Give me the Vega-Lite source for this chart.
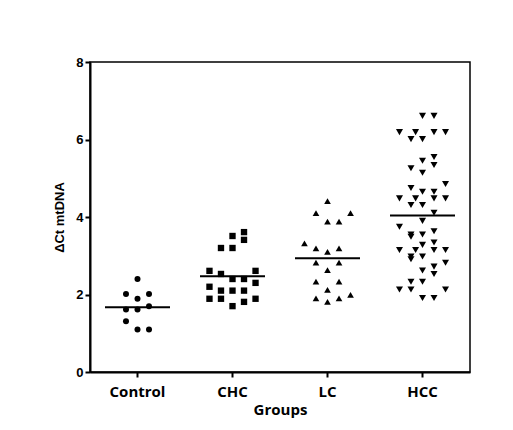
{
  "$schema": "https://vega.github.io/schema/vega-lite/v6.json",
  "autosize": {"type": "none"},
  "padding": {"left": 90, "top": 62, "right": 43, "bottom": 58},
  "width": 380,
  "height": 310,
  "background": "white",
  "config": {
    "view": {"stroke": "black", "strokeWidth": 1.5},
    "axis": {"domainColor": "black", "domainWidth": 2, "tickColor": "black", "tickWidth": 2, "tickSize": 5, "labelColor": "black", "titleColor": "black", "grid": false}
  },
  "data": {"values": [
    {"group": "Control", "value": 2.40, "col": 0},
    {"group": "Control", "value": 2.01, "col": -1},
    {"group": "Control", "value": 1.89, "col": 0},
    {"group": "Control", "value": 2.01, "col": 1},
    {"group": "Control", "value": 1.61, "col": -1},
    {"group": "Control", "value": 1.61, "col": 0},
    {"group": "Control", "value": 1.70, "col": 1},
    {"group": "Control", "value": 1.31, "col": -1},
    {"group": "Control", "value": 1.10, "col": 0},
    {"group": "Control", "value": 1.10, "col": 1},
    {"group": "CHC", "value": 3.61, "col": 1},
    {"group": "CHC", "value": 3.51, "col": 0},
    {"group": "CHC", "value": 3.41, "col": 1},
    {"group": "CHC", "value": 3.20, "col": -1},
    {"group": "CHC", "value": 3.20, "col": 0},
    {"group": "CHC", "value": 2.61, "col": -2},
    {"group": "CHC", "value": 2.53, "col": -1},
    {"group": "CHC", "value": 2.61, "col": 2},
    {"group": "CHC", "value": 2.40, "col": 0},
    {"group": "CHC", "value": 2.40, "col": 1},
    {"group": "CHC", "value": 2.30, "col": 2},
    {"group": "CHC", "value": 2.20, "col": -2},
    {"group": "CHC", "value": 2.10, "col": -1},
    {"group": "CHC", "value": 2.10, "col": 0},
    {"group": "CHC", "value": 2.10, "col": 1},
    {"group": "CHC", "value": 1.89, "col": -2},
    {"group": "CHC", "value": 1.89, "col": -1},
    {"group": "CHC", "value": 1.89, "col": 2},
    {"group": "CHC", "value": 1.81, "col": 1},
    {"group": "CHC", "value": 1.70, "col": 0},
    {"group": "LC", "value": 4.41, "col": 0},
    {"group": "LC", "value": 4.10, "col": -1},
    {"group": "LC", "value": 4.10, "col": 2},
    {"group": "LC", "value": 3.88, "col": 0},
    {"group": "LC", "value": 3.88, "col": 1},
    {"group": "LC", "value": 3.32, "col": -2},
    {"group": "LC", "value": 3.19, "col": -1},
    {"group": "LC", "value": 3.10, "col": 0},
    {"group": "LC", "value": 3.19, "col": 1},
    {"group": "LC", "value": 2.82, "col": -1},
    {"group": "LC", "value": 2.82, "col": 1},
    {"group": "LC", "value": 2.63, "col": 0},
    {"group": "LC", "value": 2.33, "col": -1},
    {"group": "LC", "value": 2.33, "col": 1},
    {"group": "LC", "value": 2.12, "col": 0},
    {"group": "LC", "value": 1.90, "col": -1},
    {"group": "LC", "value": 1.90, "col": 1},
    {"group": "LC", "value": 1.99, "col": 2},
    {"group": "LC", "value": 1.81, "col": 0},
    {"group": "HCC", "value": 6.61, "col": 0},
    {"group": "HCC", "value": 6.61, "col": 1},
    {"group": "HCC", "value": 6.19, "col": -2},
    {"group": "HCC", "value": 6.19, "col": -0.6},
    {"group": "HCC", "value": 6.19, "col": 1},
    {"group": "HCC", "value": 6.19, "col": 2},
    {"group": "HCC", "value": 6.01, "col": -1},
    {"group": "HCC", "value": 6.01, "col": 0},
    {"group": "HCC", "value": 5.55, "col": 1},
    {"group": "HCC", "value": 5.45, "col": 0},
    {"group": "HCC", "value": 5.34, "col": 1},
    {"group": "HCC", "value": 5.26, "col": -1},
    {"group": "HCC", "value": 5.14, "col": 0},
    {"group": "HCC", "value": 4.85, "col": 2},
    {"group": "HCC", "value": 4.75, "col": -1},
    {"group": "HCC", "value": 4.65, "col": 0},
    {"group": "HCC", "value": 4.65, "col": 1},
    {"group": "HCC", "value": 4.48, "col": -2},
    {"group": "HCC", "value": 4.48, "col": -0.6},
    {"group": "HCC", "value": 4.48, "col": 1},
    {"group": "HCC", "value": 4.48, "col": 2},
    {"group": "HCC", "value": 4.31, "col": -1},
    {"group": "HCC", "value": 4.31, "col": 0},
    {"group": "HCC", "value": 4.11, "col": 1},
    {"group": "HCC", "value": 3.90, "col": 0},
    {"group": "HCC", "value": 3.75, "col": -2},
    {"group": "HCC", "value": 3.63, "col": 1},
    {"group": "HCC", "value": 3.55, "col": -1},
    {"group": "HCC", "value": 3.55, "col": 0},
    {"group": "HCC", "value": 3.49, "col": -1},
    {"group": "HCC", "value": 3.34, "col": 1},
    {"group": "HCC", "value": 3.28, "col": 0},
    {"group": "HCC", "value": 3.15, "col": -2},
    {"group": "HCC", "value": 3.15, "col": -0.6},
    {"group": "HCC", "value": 3.15, "col": 1},
    {"group": "HCC", "value": 3.15, "col": 2},
    {"group": "HCC", "value": 2.98, "col": -1},
    {"group": "HCC", "value": 2.98, "col": 0},
    {"group": "HCC", "value": 2.91, "col": -1},
    {"group": "HCC", "value": 2.82, "col": 2},
    {"group": "HCC", "value": 2.72, "col": 1},
    {"group": "HCC", "value": 2.62, "col": 0},
    {"group": "HCC", "value": 2.53, "col": 1},
    {"group": "HCC", "value": 2.33, "col": -1},
    {"group": "HCC", "value": 2.33, "col": 0},
    {"group": "HCC", "value": 2.13, "col": -2},
    {"group": "HCC", "value": 2.13, "col": -1},
    {"group": "HCC", "value": 2.13, "col": 2},
    {"group": "HCC", "value": 1.91, "col": 0},
    {"group": "HCC", "value": 1.91, "col": 1}
  ]},
  "encoding": {
    "x": {
      "field": "group", "type": "nominal",
      "scale": {"type": "band", "domain": ["Control", "CHC", "LC", "HCC"], "paddingInner": 0, "paddingOuter": 0},
      "axis": {"title": "Groups", "labelAngle": 0, "labelFont": "Open Sans", "labelFontWeight": "bold", "labelFontSize": 15, "labelPadding": 7, "titleFont": "Open Sans", "titleFontWeight": "bold", "titleFontSize": 15, "titlePadding": 3}
    },
    "y": {
      "field": "value", "type": "quantitative",
      "scale": {"domain": [0, 8], "nice": false, "zero": true},
      "axis": {"title": "ΔCt mtDNA", "values": [0, 2, 4, 6, 8], "labelFont": "Liberation Sans", "labelFontWeight": "bold", "labelFontSize": 13, "labelPadding": 2, "titleFont": "Liberation Sans", "titleFontWeight": "bold", "titleFontSize": 13, "titlePadding": 9}
    }
  },
  "layer": [
    {
      "mark": {"type": "point", "filled": true, "color": "black", "opacity": 1},
      "encoding": {
        "xOffset": {"field": "col", "type": "quantitative", "scale": {"domain": [-4.125, 4.125]}},
        "shape": {"field": "group", "type": "nominal", "scale": {"domain": ["Control", "CHC", "LC", "HCC"], "range": ["circle", "square", "triangle-up", "triangle-down"]}, "legend": null},
        "size": {"field": "group", "type": "nominal", "scale": {"domain": ["Control", "CHC", "LC", "HCC"], "range": [36, 49, 48, 48]}, "legend": null}
      }
    },
    {
      "mark": {"type": "tick", "color": "black", "size": 65, "thickness": 2, "opacity": 1},
      "encoding": {
        "y": {"aggregate": "mean", "field": "value", "type": "quantitative"}
      }
    }
  ]
}
